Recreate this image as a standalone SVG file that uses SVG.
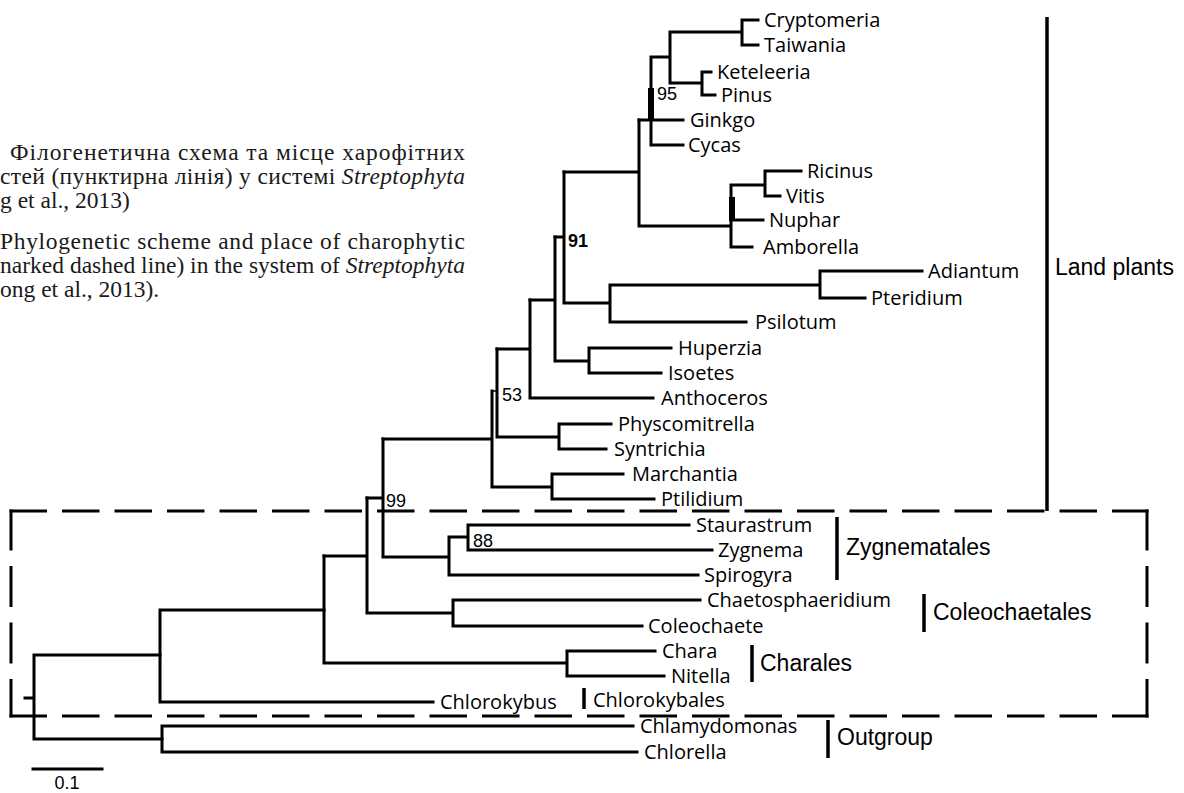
<svg xmlns="http://www.w3.org/2000/svg" width="1184" height="793" viewBox="0 0 1184 793">
<style>
.br{fill:none;stroke:#000;stroke-width:3;stroke-linecap:square}
.thin{fill:none;stroke:#000;stroke-width:1.5}
.tx{font-family:"Open Sans","Noto Sans",sans-serif;font-size:20px;fill:#000}
.ord{font-family:"Liberation Sans",Arial,sans-serif;font-size:23px;fill:#000}
.bs{font-family:"Liberation Sans",Arial,sans-serif;font-size:18px;fill:#000}
.cap{font-family:"Liberation Serif","Times New Roman",serif;font-size:23.5px;fill:#1a1a1a}
.bar{stroke:#000;stroke-width:3.5}
.dash{stroke:#000;stroke-width:3;fill:none}
</style>
<rect width="1184" height="793" fill="#fff"/>
<g id="caption">
<text class="cap" x="10" y="160" textLength="455" lengthAdjust="spacing">Філогенетична схема та місце харофітних</text>
<text class="cap" x="0" y="184" textLength="465" lengthAdjust="spacing">стей (пунктирна лінія) у системі <tspan font-style="italic">Streptophyta</tspan></text>
<text class="cap" x="0" y="208">g et al., 2013)</text>
<text class="cap" x="0" y="249" textLength="465" lengthAdjust="spacing">Phylogenetic scheme and place of charophytic</text>
<text class="cap" x="0" y="273" textLength="465" lengthAdjust="spacing">narked dashed line) in the system of <tspan font-style="italic">Streptophyta</tspan></text>
<text class="cap" x="0" y="297">ong et al., 2013).</text>
</g>
<g id="connectors">
<path class="br" d="M25 698H34M34 655V739M34 655H160M34 739H162"/>
<path class="br" d="M162 726V752M162 726H633M162 752H637"/>
<path class="br" d="M160 610V702M160 702H433M160 610H324"/>
<path class="br" d="M324 556V663M324 663H567M567 651V676M567 651H655M567 676H664"/>
<path class="br" d="M324 556H367M367 498V613M367 613H453M453 600V626M453 600H700M453 626H642"/>
<path class="br" d="M367 498H383M383 439V557M383 557H449M449 537V575M449 575H698M449 537H468M468 525V550M468 525H689M468 550H712"/>
<path class="br" d="M383 439H492M492 391V487M492 487H552M552 474V499M552 474H623M552 499H654"/>
<path class="thin" d="M492 391H497"/>
<path class="br" d="M497 349V437M497 437H559M559 424V449M559 424H611M559 449H606"/>
<path class="br" d="M497 349H530M530 300V398M530 398H653"/>
<path class="br" d="M530 300H555M555 237V361M555 361H589M589 348V373M589 348H671M589 373H661"/>
<path class="br" d="M555 237H564M564 172V303M564 303H610M610 285V322M610 322H746M610 285H820M820 271V298M820 271H922M820 298H865"/>
<path class="br" d="M564 172H639M639 120V226M639 226H731M731 185V247M731 247H752M731 220H763M731 185H765M765 171V196M765 171H801M765 196H780"/>
<rect x="729" y="197" width="6" height="24" fill="#000"/>
<path class="br" d="M639 120H651M651 57V145M651 120H683M651 145H683M651 57H670M670 32V83M670 32H742M742 20V45M742 20H758M742 45H758M670 83H702M702 72V95M702 72H711M702 95H715"/>
<rect x="648" y="88" width="6" height="32" fill="#000"/>
<path class="br" d="M33 769H102"/>
</g>
<g id="box">
<path class="dash" d="M9.5 511H1148.5" stroke-dasharray="37.5 15"/>
<path class="dash" d="M9.5 716H1148.5" stroke-dasharray="37.5 15"/>
<path class="dash" d="M11 509.5V717.5" stroke-dasharray="41 15.5"/>
<path class="dash" d="M1147 509.5V717.5" stroke-dasharray="41 15.5"/>
</g>
<g id="n-cryptomeria"><text class="tx" x="764" y="27">Cryptomeria</text></g>
<g id="n-taiwania"><text class="tx" x="764" y="52">Taiwania</text></g>
<g id="n-keteleeria"><text class="tx" x="717" y="79">Keteleeria</text></g>
<g id="n-pinus"><text class="tx" x="721" y="102">Pinus</text></g>
<g id="n-ginkgo"><text class="tx" x="690" y="127">Ginkgo</text></g>
<g id="n-cycas"><text class="tx" x="688" y="152">Cycas</text></g>
<g id="n-ricinus"><text class="tx" x="807" y="178">Ricinus</text></g>
<g id="n-vitis"><text class="tx" x="786" y="203">Vitis</text></g>
<g id="n-nuphar"><text class="tx" x="769" y="227">Nuphar</text></g>
<g id="n-amborella"><text class="tx" x="763" y="254">Amborella</text></g>
<g id="n-adiantum"><text class="tx" x="928" y="278">Adiantum</text></g>
<g id="n-pteridium"><text class="tx" x="871" y="305">Pteridium</text></g>
<g id="n-psilotum"><text class="tx" x="755" y="329">Psilotum</text></g>
<g id="n-huperzia"><text class="tx" x="678" y="355">Huperzia</text></g>
<g id="n-isoetes"><text class="tx" x="668" y="380">Isoetes</text></g>
<g id="n-anthoceros"><text class="tx" x="661" y="405">Anthoceros</text></g>
<g id="n-physcomitrella"><text class="tx" x="618" y="431">Physcomitrella</text></g>
<g id="n-syntrichia"><text class="tx" x="614" y="456">Syntrichia</text></g>
<g id="n-marchantia"><text class="tx" x="632" y="481">Marchantia</text></g>
<g id="n-ptilidium"><text class="tx" x="661" y="506">Ptilidium</text></g>
<g id="n-staurastrum"><text class="tx" x="696" y="532">Staurastrum</text></g>
<g id="n-zygnema"><text class="tx" x="718" y="557">Zygnema</text></g>
<g id="n-spirogyra"><text class="tx" x="704" y="582">Spirogyra</text></g>
<g id="n-chaetosphaeridium"><text class="tx" x="707" y="607">Chaetosphaeridium</text></g>
<g id="n-coleochaete"><text class="tx" x="648" y="633">Coleochaete</text></g>
<g id="n-chara"><text class="tx" x="662" y="658">Chara</text></g>
<g id="n-nitella"><text class="tx" x="671" y="683">Nitella</text></g>
<g id="n-chlorokybus"><text class="tx" x="440" y="709">Chlorokybus</text></g>
<g id="n-chlamydomonas"><text class="tx" x="640" y="733">Chlamydomonas</text></g>
<g id="n-chlorella"><text class="tx" x="644" y="759">Chlorella</text></g>
<g id="support">
<text class="bs" x="657" y="100">95</text>
<text class="bs" x="568" y="247" font-weight="bold">91</text>
<text class="bs" x="502" y="401">53</text>
<text class="bs" x="386" y="507">99</text>
<text class="bs" x="473" y="547">88</text>
<text class="bs" x="67" y="789" text-anchor="middle">0.1</text>
</g>
<g id="clade-land"><line class="bar" x1="1047" y1="17" x2="1047" y2="511"/><text class="ord" x="1055" y="275">Land plants</text></g>
<g id="clade-zygnematales"><line class="bar" x1="837" y1="517" x2="837" y2="580"/><text class="ord" x="846" y="555">Zygnematales</text></g>
<g id="clade-coleochaetales"><line class="bar" x1="924" y1="594" x2="924" y2="632"/><text class="ord" x="933" y="620">Coleochaetales</text></g>
<g id="clade-charales"><line class="bar" x1="752" y1="645" x2="752" y2="682"/><text class="ord" x="760" y="671">Charales</text></g>
<g id="clade-chlorokybales"><line class="bar" x1="584" y1="688" x2="584" y2="709"/><text class="tx" x="593" y="707">Chlorokybales</text></g>
<g id="clade-outgroup"><line class="bar" x1="828" y1="720" x2="828" y2="758"/><text class="ord" x="837" y="745">Outgroup</text></g>
</svg>
